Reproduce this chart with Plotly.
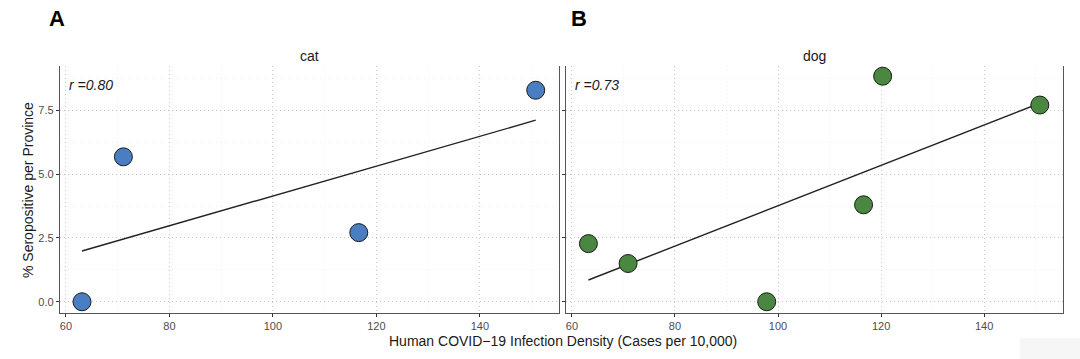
import numpy as np
import plotly.graph_objects as go

# ---- data ----
cat_x = [63.1, 71.1, 116.6, 150.8]
cat_y = [0.0, 5.68, 2.71, 8.29]
dog_x = [63.2, 70.9, 97.8, 116.6, 120.3, 150.8]
dog_y = [2.28, 1.50, 0.0, 3.80, 8.84, 7.71]
panel_names = ["cat", "dog"]
r_labels = ["r =0.80", "r =0.73"]
panel_letters = ["A", "B"]
x_ticks = [60, 80, 100, 120, 140]
y_ticks = [0.0, 2.5, 5.0, 7.5]
y_tick_text = ["0.0", "2.5", "5.0", "7.5"]

W, H = 1080, 359
FONT = "Liberation Sans, Arial, Helvetica, sans-serif"
colors = ["#4A7EC2", "#4A8740"]

fig = go.Figure()

series = [(cat_x, cat_y), (dog_x, dog_y)]
for i, (xs, ys) in enumerate(series):
    xa = "x" if i == 0 else "x2"
    ya = "y" if i == 0 else "y2"
    xs_a = np.array(xs)
    ys_a = np.array(ys)
    slope, icpt = np.polyfit(xs_a, ys_a, 1)
    lx = np.array([xs_a.min(), xs_a.max()])
    fig.add_trace(go.Scatter(x=lx, y=slope * lx + icpt, mode="lines",
                             line=dict(color="#222222", width=1.4),
                             xaxis=xa, yaxis=ya, showlegend=False, hoverinfo="skip"))
    fig.add_trace(go.Scatter(x=xs, y=ys, mode="markers",
                             marker=dict(size=18, color=colors[i],
                                         line=dict(color="#1a1a1a", width=1)),
                             xaxis=xa, yaxis=ya, showlegend=False))

x_range = [58.85, 155.3]
y_range = [-0.44, 9.24]
left1, right1 = 60 / W, 559 / W
left2, right2 = 566 / W, 1063 / W
top, bottom = 1 - 66 / H, 1 - 313 / H

DOT = "1px,3px"
axis_common = dict(
    range=x_range, tickvals=x_ticks, ticks="outside", ticklen=3, tickwidth=1,
    tickcolor="#333333", tickfont=dict(size=11, color="#4D4D4D", family=FONT),
    showgrid=True, gridcolor="#C8C8C8", griddash=DOT, gridwidth=1,
    minor=dict(dtick=10, tick0=60, showgrid=True, gridcolor="#F0F0F0", gridwidth=1, ticks=""),
    showline=True, linecolor="#555555", linewidth=1.3, zeroline=False, mirror=False,
)
yaxis_common = dict(
    range=y_range, tickvals=y_ticks, ticktext=y_tick_text, ticks="outside", ticklen=3,
    tickwidth=1, tickcolor="#333333", tickfont=dict(size=11, color="#4D4D4D", family=FONT),
    showgrid=True, gridcolor="#C8C8C8", griddash=DOT, gridwidth=1,
    minor=dict(dtick=2.5, tick0=1.25, showgrid=True, gridcolor="#F0F0F0", gridwidth=1, ticks=""),
    showline=True, linecolor="#555555", linewidth=1.3, zeroline=False, mirror=True,
)

fig.update_layout(
    width=W, height=H,
    margin=dict(l=0, r=0, t=0, b=0),
    paper_bgcolor="white", plot_bgcolor="white",
    font=dict(family=FONT, color="#000000"),
    xaxis=dict(domain=[left1, right1], anchor="y", **axis_common),
    xaxis2=dict(domain=[left2, right2], anchor="y2", **axis_common),
    yaxis=dict(domain=[bottom, top], anchor="x", **yaxis_common),
    yaxis2=dict(domain=[bottom, top], anchor="x2", showticklabels=False, **yaxis_common),
    showlegend=False,
)

ann = []
for i, letter in enumerate(panel_letters):
    ann.append(dict(text="<b>" + letter + "</b>", x=(47 if i == 0 else 569) / W, y=1 - 18 / H,
                    xref="paper", yref="paper", xanchor="left", yanchor="middle",
                    showarrow=False, font=dict(size=22, family=FONT, color="black")))
for i, name in enumerate(panel_names):
    cx = (left1 + right1) / 2 if i == 0 else (left2 + right2) / 2
    ann.append(dict(text=name, x=cx, y=1 - 56 / H, xref="paper", yref="paper",
                    xanchor="center", yanchor="middle", showarrow=False,
                    font=dict(size=14, family=FONT, color="#1a1a1a")))
for i, lab in enumerate(r_labels):
    lx = (67 if i == 0 else 573) / W
    ann.append(dict(text="<i>" + lab + "</i>", x=lx, y=1 - 85 / H, xref="paper", yref="paper",
                    xanchor="left", yanchor="middle", showarrow=False,
                    font=dict(size=14, family=FONT, color="#1a1a1a")))
ann.append(dict(text="Human COVID\u221219 Infection Density (Cases per 10,000)",
                x=563 / W, y=1 - 341 / H, xref="paper", yref="paper",
                xanchor="center", yanchor="middle", showarrow=False,
                font=dict(size=14, family=FONT, color="#1a1a1a")))
ann.append(dict(text="% Seropositive per Province", x=28 / W, y=1 - 190 / H,
                xref="paper", yref="paper", xanchor="center", yanchor="middle",
                textangle=-90, showarrow=False,
                font=dict(size=14, family=FONT, color="#1a1a1a")))
fig.update_layout(annotations=ann)

fig.add_shape(type="rect", xref="paper", yref="paper", x0=1020 / W, x1=1.0,
              y0=0, y1=1 - 338 / H, fillcolor="#F6F6F6", line=dict(width=0), layer="below")

fig.write_html("out.html", config={"displayModeBar": False},
               post_script="document.body.style.margin='0';document.body.style.padding='0';")
